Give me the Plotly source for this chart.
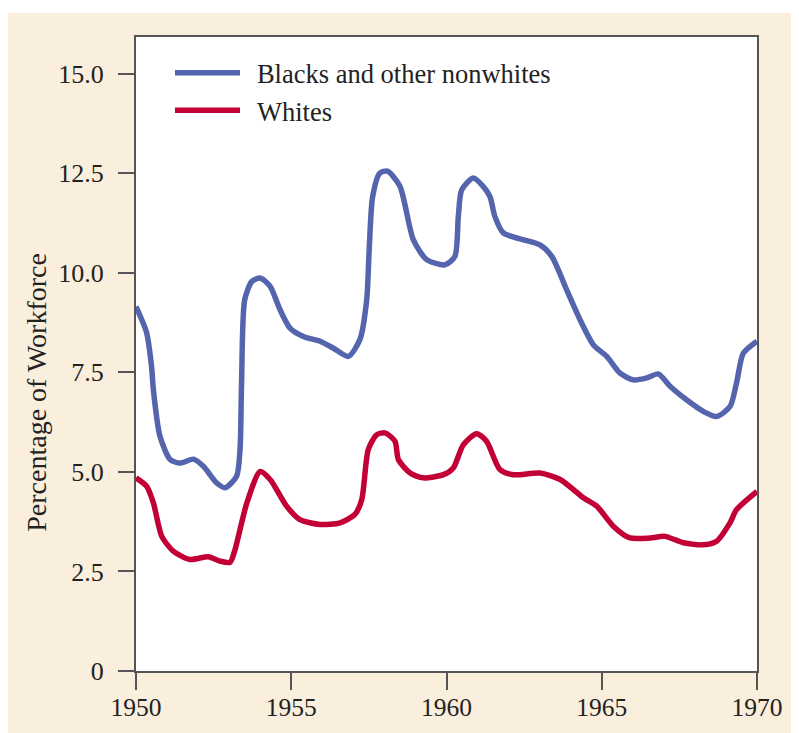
import plotly.graph_objects as go

# --- data ---
blacks_years = [1950.0, 1950.34, 1950.5, 1950.56, 1950.77, 1951.1, 1951.42, 1951.85, 1952.17,
                1952.6, 1952.87, 1953.24, 1953.35, 1953.4, 1953.5, 1953.73, 1954.0, 1954.32,
                1954.64, 1954.96, 1955.39, 1955.93, 1956.35, 1956.84, 1957.21, 1957.43,
                1957.51, 1957.62, 1957.85, 1958.1, 1958.5, 1958.93, 1959.36, 1959.95, 1960.27,
                1960.38, 1960.49, 1960.86, 1961.18, 1961.4, 1961.56, 1961.83, 1962.37, 1963.01,
                1963.39, 1963.87, 1964.3, 1964.73, 1965.16, 1965.59, 1966.02, 1966.45, 1966.82,
                1967.2, 1967.73, 1968.27, 1968.7, 1969.13, 1969.34, 1969.56, 1970.0]
blacks_values = [9.15, 8.5, 7.65, 7.06, 5.9, 5.31, 5.22, 5.32, 5.14,
                 4.72, 4.6, 4.89, 5.56, 7.23, 9.32, 9.78, 9.87, 9.66,
                 9.07, 8.61, 8.4, 8.28, 8.11, 7.9, 8.32, 9.32,
                 10.58, 11.9, 12.5, 12.55, 12.17, 10.83, 10.33, 10.2, 10.41,
                 11.41, 12.08, 12.38, 12.17, 11.91, 11.41, 11.0, 10.85, 10.7,
                 10.41, 9.57, 8.82, 8.19, 7.9, 7.48, 7.31, 7.36, 7.46,
                 7.15, 6.81, 6.52, 6.39, 6.64, 7.23, 7.98, 8.28]

whites_years = [1950.0, 1950.34, 1950.56, 1950.83, 1951.2, 1951.74, 1952.33, 1952.7, 1953.03,
                1953.19, 1953.57, 1954.0, 1954.32, 1954.85, 1955.28, 1955.93, 1956.57, 1957.05,
                1957.27, 1957.48, 1957.75, 1958.02, 1958.34, 1958.45, 1958.83, 1959.25, 1959.9,
                1960.22, 1960.54, 1960.97, 1961.29, 1961.72, 1962.15, 1963.01, 1963.66, 1964.41,
                1964.84, 1965.38, 1965.91, 1966.56, 1967.04, 1967.63, 1968.27, 1968.7, 1969.13,
                1969.34, 1970.0]
whites_values = [4.85, 4.64, 4.22, 3.38, 3.01, 2.8, 2.87, 2.76, 2.73,
                 3.05, 4.22, 5.01, 4.81, 4.14, 3.8, 3.68, 3.72, 3.93,
                 4.3, 5.56, 5.93, 5.98, 5.77, 5.31, 4.97, 4.85, 4.93,
                 5.1, 5.68, 5.96, 5.77, 5.06, 4.93, 4.97, 4.81, 4.35,
                 4.14, 3.63, 3.34, 3.34, 3.38, 3.22, 3.17, 3.26, 3.72,
                 4.05, 4.51]

series_names = ["Blacks and other nonwhites", "Whites"]
x_ticks = [1950, 1955, 1960, 1965, 1970]
y_ticks = [0, 2.5, 5, 7.5, 10, 12.5, 15]
y_tick_labels = ["0", "2.5", "5.0", "7.5", "10.0", "12.5", "15.0"]
y_title = "Percentage of Workforce"

BLUE = "#5465AD"
RED = "#C20035"
BEIGE = "#FAEEDC"
AXIS = "#555555"
TEXT = "#222222"
FONT = "Liberation Serif, Times New Roman, serif"

fig = go.Figure()
fig.add_trace(go.Scatter(x=blacks_years, y=blacks_values, mode="lines",
                         name="\u00a0\u2009" + series_names[0],
                         line=dict(color=BLUE, width=5.5, shape="spline", smoothing=0.7)))
fig.add_trace(go.Scatter(x=whites_years, y=whites_values, mode="lines",
                         name="\u00a0\u2009" + series_names[1],
                         line=dict(color=RED, width=5.5, shape="spline", smoothing=0.7)))

W, H = 799, 733
ml, mr, mt, mb = 128, 50, 29, 69.5
pw, ph = W - ml - mr, H - mt - mb

# thin white strip at the top of the figure
fig.add_shape(type="rect", xref="paper", yref="paper",
              x0=-ml / pw - 0.01, x1=(W - ml) / pw + 0.01,
              y0=1 + (mt - 5) / ph, y1=1 + mt / ph + 0.01,
              fillcolor="white", line=dict(width=0), layer="below")

# y axis title placed as annotation (it sits below the plot's middle in the reference)
fig.add_annotation(text=y_title, xref="paper", yref="paper",
                   x=(29 - ml) / pw, y=1 - (385 - mt) / ph, xanchor="center", yanchor="middle",
                   textangle=-90, showarrow=False,
                   font=dict(size=28, family=FONT, color=TEXT))

fig.update_layout(
    width=W, height=H,
    margin=dict(l=ml, r=mr, t=mt, b=mb, pad=0, autoexpand=False),
    paper_bgcolor=BEIGE, plot_bgcolor="white",
    font=dict(family=FONT, size=25, color=TEXT),
    showlegend=True,
    legend=dict(x=(170 - 8 - ml) / pw, y=1 - (41 - mt) / ph, xanchor="left", yanchor="top",
                bgcolor="rgba(0,0,0,0)",
                font=dict(size=26.5, family=FONT, color=TEXT), itemwidth=65,
                tracegroupgap=0),
    xaxis=dict(range=[1950, 1970], tickvals=x_ticks, ticktext=[str(v) for v in x_ticks],
               showgrid=False, zeroline=False, showline=True, linecolor=AXIS, linewidth=2,
               mirror=True, ticks="outside", ticklen=17, tickwidth=2, tickcolor=AXIS,
               automargin=False, ticklabelstandoff=-5,
               tickfont=dict(size=25.5, family=FONT, color=TEXT)),
    yaxis=dict(range=[0, 15.92], tickvals=y_ticks, ticktext=y_tick_labels,
               showgrid=False, zeroline=False, showline=True, linecolor=AXIS, linewidth=2,
               mirror=True, ticks="outside", ticklen=16, tickwidth=2, tickcolor=AXIS,
               ticklabelstandoff=9, automargin=False,
               tickfont=dict(size=26, family=FONT, color=TEXT)),
)

fig.write_html("out.html")
